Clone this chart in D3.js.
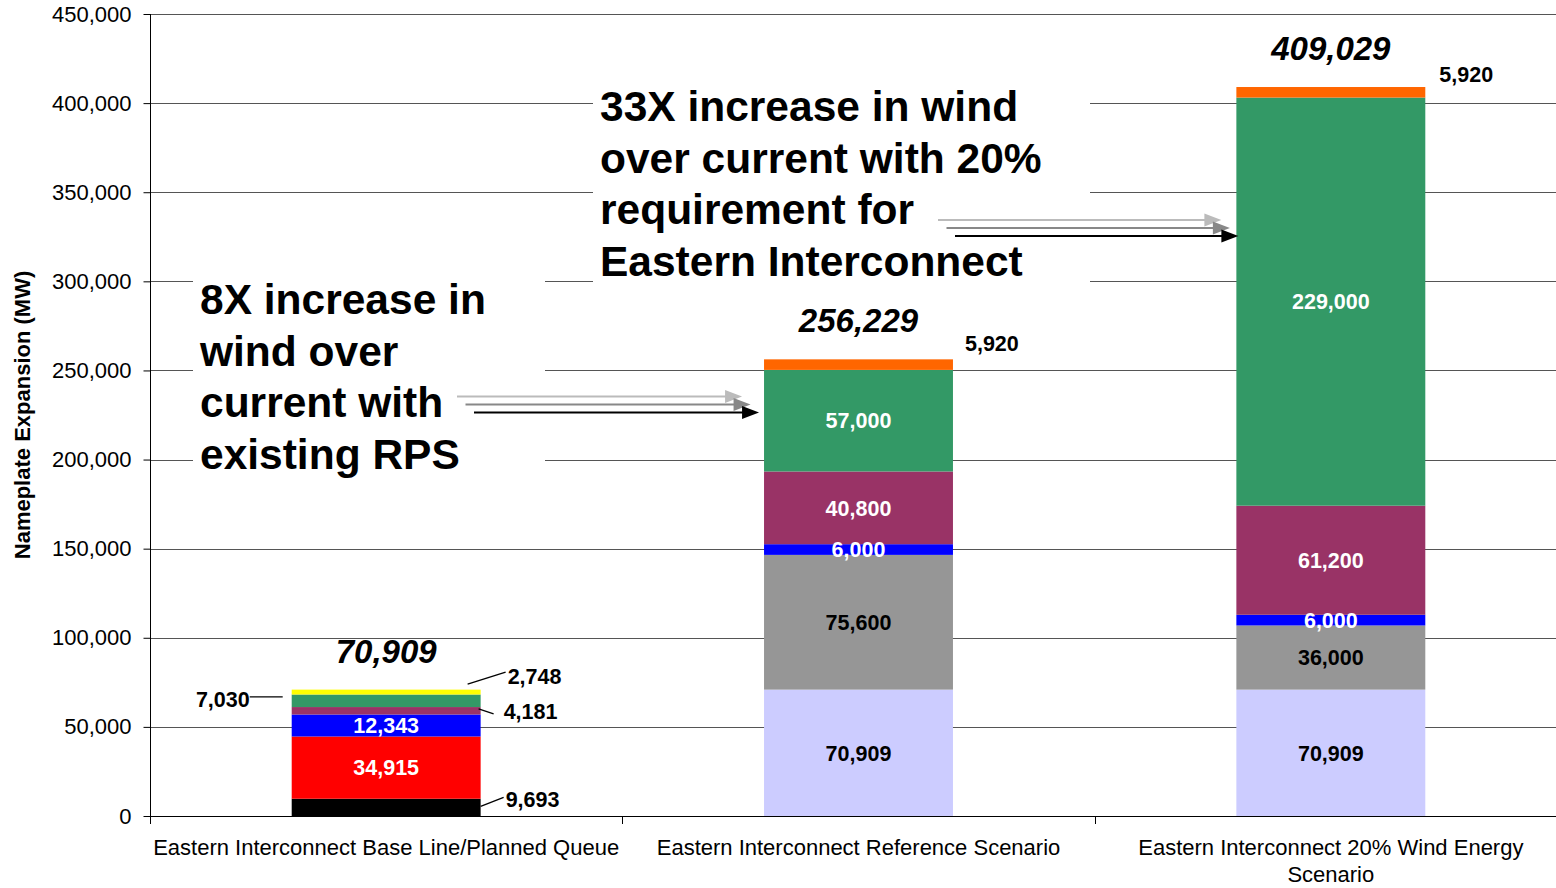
<!DOCTYPE html>
<html>
<head>
<meta charset="utf-8">
<script src="https://cdn.jsdelivr.net/npm/d3@7"></script>
<style>
  body { margin: 0; background: #fff; }
  svg { display: block; font-family: "Liberation Sans", Arial, sans-serif; }
</style>
</head>
<body>
<svg id="chart" width="1556" height="888"></svg>
<script>
// ---- data ----
const categories = [
    'Eastern Interconnect Base Line/Planned Queue',
    'Eastern Interconnect Reference Scenario',
    'Eastern Interconnect 20% Wind Energy Scenario'
];
const seriesKeys = ['Base Line', 'Black', 'Red', 'Gray', 'Blue', 'Purple', 'Green', 'Yellow', 'Orange'];
const seriesColors = ['#CCCCFF', '#000000', '#FF0000', '#969696', '#0000FF', '#993366', '#339966', '#FFFF00', '#FF6600'];
const seriesTextColors = ['#000', '#fff', '#fff', '#000', '#fff', '#fff', '#fff', '#000', '#000'];
const baseLine = [0, 70909, 70909];
const blackVals = [9693, 0, 0];
const redVals = [34915, 0, 0];
const grayVals = [0, 75600, 36000];
const blueVals = [12343, 6000, 6000];
const purpleVals = [4181, 40800, 61200];
const greenVals = [7030, 57000, 229000];
const yellowVals = [2748, 0, 0];
const orangeVals = [0, 5920, 5920];
const totals = [70909, 256229, 409029];
const yTicks = [0, 50000, 100000, 150000, 200000, 250000, 300000, 350000, 400000, 450000];

// small segments labelled outside the bar: [category, series, dx from bar edge, dy, leader line]
const callouts = [
    {cat: 0, key: 'Black', side: 'right', dx: 25, dy: -8, line: [0, -1, 23, -10]},
    {cat: 0, key: 'Purple', side: 'right', dx: 23, dy: 0, line: [-2, -2, 13, 3]},
    {cat: 0, key: 'Yellow', side: 'right', dx: 27, dy: -16, line: [-13, -8, 25, -20]},
    {cat: 0, key: 'Green', side: 'left', dx: -42, dy: -2, line: [-42, -4, -9, -4]},
    {cat: 1, key: 'Orange', side: 'right', dx: 12, dy: -21, line: null},
    {cat: 2, key: 'Orange', side: 'right', dx: 14, dy: -18, line: null}
];

const annotations = [
    {lines: ['8X increase in', 'wind over', 'current with', 'existing RPS'], box: [193, 272, 352, 205], tx: 200, ty: 314},
    {lines: ['33X increase in wind', 'over current with 20%', 'requirement for', 'Eastern Interconnect'], box: [593, 80, 497, 208], tx: 600, ty: 121}
];

const valueArrays = [baseLine, blackVals, redVals, grayVals, blueVals, purpleVals, greenVals, yellowVals, orangeVals];
const rows = categories.map((c, i) => {
    const row = {category: c};
    seriesKeys.forEach((k, j) => { row[k] = valueArrays[j][i]; });
    return row;
});

// ---- layout ----
const margin = {left: 150, top: 14, right: 1567, bottom: 816};
const FONT = '"Liberation Sans", Arial, sans-serif';
const svg = d3.select('#chart');

const x = d3.scaleBand().domain(categories).range([margin.left, margin.right]).padding(0);
const y = d3.scaleLinear().domain([0, 450000]).range([margin.bottom, margin.top]);
const barW = x.bandwidth() * 0.40;
const barX = c => x(c) + (x.bandwidth() - barW) / 2;
const fmt = d3.format(',');

// gridlines
svg.append('g')
    .selectAll('line')
    .data(yTicks.filter(d => d > 0))
    .join('line')
    .attr('x1', margin.left)
    .attr('x2', margin.right)
    .attr('y1', d => Math.round(y(d)) + 0.5)
    .attr('y2', d => Math.round(y(d)) + 0.5)
    .attr('stroke', '#555')
    .attr('stroke-width', 1);

// white boxes behind the annotation text
annotations.forEach(a => {
    svg.append('rect')
        .attr('x', a.box[0]).attr('y', a.box[1])
        .attr('width', a.box[2]).attr('height', a.box[3])
        .attr('fill', '#fff');
});

// y axis
const yAxis = svg.append('g')
    .attr('transform', `translate(${margin.left + 0.5},0)`)
    .call(d3.axisLeft(y).tickValues(yTicks).tickFormat(fmt).tickSize(7).tickPadding(12));
yAxis.select('.domain').attr('stroke', '#000').attr('d', `M0,${margin.top}V${margin.bottom}`);
yAxis.selectAll('.tick line').attr('stroke', '#000');
yAxis.selectAll('.tick text')
    .attr('font-family', FONT)
    .attr('font-size', '22px')
    .attr('fill', '#000');

svg.append('text')
    .attr('transform', `translate(30, ${(margin.top + margin.bottom) / 2}) rotate(-90)`)
    .attr('text-anchor', 'middle')
    .attr('font-family', FONT)
    .attr('font-size', '22px')
    .attr('font-weight', 'bold')
    .text('Nameplate Expansion (MW)');

// bars
const stacked = d3.stack().keys(seriesKeys)(rows);
const layers = svg.append('g')
    .selectAll('g')
    .data(stacked)
    .join('g')
    .attr('fill', (d, i) => seriesColors[i]);

layers.selectAll('rect')
    .data(d => d.filter(s => s[1] - s[0] > 0))
    .join('rect')
    .attr('x', d => barX(d.data.category))
    .attr('width', barW)
    .attr('y', d => y(d[1]))
    .attr('height', d => y(d[0]) - y(d[1]));

// x axis
svg.append('line')
    .attr('x1', margin.left).attr('x2', margin.right)
    .attr('y1', margin.bottom + 0.5).attr('y2', margin.bottom + 0.5)
    .attr('stroke', '#000');
svg.append('g')
    .selectAll('line')
    .data(categories)
    .join('line')
    .attr('x1', d => Math.round(x(d)) + 0.5)
    .attr('x2', d => Math.round(x(d)) + 0.5)
    .attr('y1', margin.bottom)
    .attr('y2', margin.bottom + 8)
    .attr('stroke', '#000');

const catText = svg.append('g')
    .selectAll('text')
    .data(categories)
    .join('text')
    .attr('x', d => x(d) + x.bandwidth() / 2)
    .attr('y', 855)
    .attr('text-anchor', 'middle')
    .attr('font-family', FONT)
    .attr('font-size', '22px')
    .text(d => d);

// wrap category labels that do not fit in their band
catText.each(function (d) {
    const t = d3.select(this);
    const words = d.split(' ');
    const maxW = x.bandwidth() - 4;
    let line = [];
    let tspan = t.text(null).append('tspan').attr('x', x(d) + x.bandwidth() / 2).attr('dy', 0);
    words.forEach(w => {
        line.push(w);
        tspan.text(line.join(' '));
        if (tspan.node().getComputedTextLength() > maxW && line.length > 1) {
            line.pop();
            tspan.text(line.join(' '));
            line = [w];
            tspan = t.append('tspan').attr('x', x(d) + x.bandwidth() / 2).attr('dy', 27).text(w);
        }
    });
});

// labels inside segments
const isCallout = (ci, key) => callouts.some(c => c.cat === ci && c.key === key);
stacked.forEach((layer, si) => {
    layer.forEach((seg, ci) => {
        const v = seg[1] - seg[0];
        if (v <= 0 || isCallout(ci, layer.key)) return;
        svg.append('text')
            .attr('x', barX(categories[ci]) + barW / 2)
            .attr('y', y((seg[0] + seg[1]) / 2))
            .attr('dy', '0.36em')
            .attr('text-anchor', 'middle')
            .attr('font-family', FONT)
            .attr('font-size', '21.5px')
            .attr('font-weight', 'bold')
            .attr('fill', seriesTextColors[si])
            .text(fmt(v));
    });
});

// callout labels outside the bar
callouts.forEach(c => {
    const layer = stacked.find(l => l.key === c.key);
    const seg = layer[c.cat];
    const cat = categories[c.cat];
    const edge = c.side === 'right' ? barX(cat) + barW : barX(cat);
    const yc = y((seg[0] + seg[1]) / 2);
    if (c.line) {
        svg.append('line')
            .attr('x1', edge + c.line[0]).attr('y1', yc + c.line[1])
            .attr('x2', edge + c.line[2]).attr('y2', yc + c.line[3])
            .attr('stroke', '#000')
            .attr('stroke-width', 1.3);
    }
    svg.append('text')
        .attr('x', edge + c.dx)
        .attr('y', yc + c.dy)
        .attr('dy', '0.36em')
        .attr('text-anchor', c.side === 'right' ? 'start' : 'end')
        .attr('font-family', FONT)
        .attr('font-size', '21.5px')
        .attr('font-weight', 'bold')
        .text(fmt(seg[1] - seg[0]));
});

// totals above bars
svg.append('g')
    .selectAll('text')
    .data(categories)
    .join('text')
    .attr('x', d => barX(d) + barW / 2)
    .attr('y', (d, i) => y(totals[i]) - 39)
    .attr('dy', '0.36em')
    .attr('text-anchor', 'middle')
    .attr('font-family', FONT)
    .attr('font-size', '33px')
    .attr('font-weight', 'bold')
    .attr('font-style', 'italic')
    .text((d, i) => fmt(totals[i]));

// annotation text
annotations.forEach(a => {
    const t = svg.append('text')
        .attr('font-family', FONT)
        .attr('font-size', '42.5px')
        .attr('font-weight', 'bold');
    a.lines.forEach((l, i) => {
        t.append('tspan')
            .attr('x', a.tx)
            .attr('y', a.ty + i * 51.5)
            .text(l);
    });
});

// triple arrows pointing at the wind segments
function tripleArrow(x0, y0, tipX) {
    const colors = ['#BBBBBB', '#888888', '#000000'];
    colors.forEach((col, i) => {
        const sx = x0 + i * 8.5;
        const sy = y0 + i * 8;
        const tx = tipX + i * 8.5;
        const g = svg.append('g');
        g.append('line')
            .attr('x1', sx).attr('y1', sy)
            .attr('x2', tx - 14).attr('y2', sy)
            .attr('stroke', col)
            .attr('stroke-width', 2.2);
        g.append('path')
            .attr('d', `M${tx},${sy} L${tx - 17},${sy - 6.5} L${tx - 17},${sy + 6.5} Z`)
            .attr('fill', col);
    });
}
tripleArrow(457, 396.5, barX(categories[1]) - 22);
tripleArrow(938, 220, barX(categories[2]) - 15);
</script>
</body>
</html>
